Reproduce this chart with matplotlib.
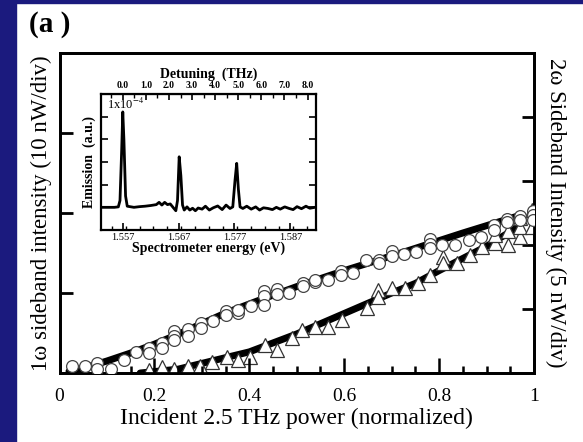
import numpy as np
import matplotlib
matplotlib.use("Agg")
import matplotlib.pyplot as plt
from matplotlib.ticker import MultipleLocator

plt.rcParams['font.family'] = ['Liberation Serif', 'DejaVu Serif']
plt.rcParams['mathtext.fontset'] = 'stix'

# 1 omega sideband (open circles, left scale, divisions)
p1 = [0.027, 0.053, 0.080, 0.080, 0.108, 0.135, 0.161, 0.188, 0.188, 0.215, 0.215,
      0.241, 0.241, 0.241, 0.270, 0.270, 0.298, 0.298, 0.323, 0.351, 0.351, 0.377,
      0.377, 0.403, 0.431, 0.431, 0.431, 0.458, 0.458, 0.484, 0.513, 0.513, 0.539,
      0.539, 0.565, 0.594, 0.594, 0.619, 0.646, 0.673, 0.673, 0.701, 0.701, 0.727,
      0.752, 0.781, 0.781, 0.781, 0.807, 0.834, 0.863, 0.889, 0.916, 0.916, 0.944,
      0.944, 0.971, 0.971, 0.998, 0.998, 0.998]
i1 = [0.083, 0.092, 0.125, 0.050, 0.054, 0.158, 0.258, 0.313, 0.250, 0.375, 0.313,
      0.529, 0.458, 0.408, 0.550, 0.458, 0.625, 0.563, 0.646, 0.771, 0.729, 0.750,
      0.790, 0.842, 1.021, 0.958, 0.854, 1.050, 0.990, 1.000, 1.125, 1.090, 1.133,
      1.167, 1.167, 1.270, 1.230, 1.250, 1.417, 1.417, 1.375, 1.520, 1.467, 1.490,
      1.510, 1.675, 1.610, 1.563, 1.604, 1.604, 1.667, 1.700, 1.846, 1.790, 1.930,
      1.883, 1.958, 1.917, 2.020, 1.970, 1.917]
fit1_p = [0.02, 0.05, 0.10, 0.15, 0.20, 0.26, 0.35, 0.43, 0.50, 0.60, 0.73, 0.85, 0.97]
fit1_i = [0.02, 0.06, 0.15, 0.25, 0.36, 0.51, 0.75, 0.93, 1.08, 1.28, 1.52, 1.75, 1.97]

# 2 omega sideband (open triangles, right scale, divisions)
p2 = [0.027, 0.188, 0.215, 0.241, 0.270, 0.270, 0.296, 0.321, 0.353, 0.376, 0.401,
      0.433, 0.458, 0.490, 0.512, 0.538, 0.566, 0.595, 0.648, 0.671, 0.671, 0.701,
      0.728, 0.755, 0.781, 0.808, 0.808, 0.838, 0.865, 0.891, 0.918, 0.918, 0.945,
      0.945, 0.971, 0.971, 0.971, 0.996, 0.996]
i2 = [0.01, 0.04, 0.09, 0.06, 0.00, 0.11, 0.11, 0.17, 0.25, 0.20, 0.25,
      0.44, 0.36, 0.55, 0.67, 0.72, 0.72, 0.83, 1.02, 1.30, 1.19, 1.33,
      1.33, 1.41, 1.53, 1.81, 1.72, 1.72, 1.84, 1.97, 2.03, 2.16, 2.00,
      2.22, 2.13, 2.28, 2.42, 2.55, 2.28]
fit2_p = [0.17, 0.25, 0.30, 0.40, 0.50, 0.60, 0.70, 0.75, 0.80, 0.90, 0.97]
fit2_i = [0.00, 0.06, 0.15, 0.33, 0.61, 0.93, 1.25, 1.40, 1.60, 1.98, 2.30]

# inset emission spectrum
e_ev = [1.5533, 1.5545, 1.5555, 1.5562, 1.5565, 1.5568, 1.5570, 1.5572, 1.5575,
        1.5578, 1.5590, 1.5600, 1.5610, 1.5620, 1.5630, 1.5635, 1.5640, 1.5645,
        1.5650, 1.5655, 1.5660, 1.5665, 1.5668, 1.5671, 1.5674, 1.5677, 1.5680,
        1.5685, 1.5690, 1.5695, 1.5700, 1.5705, 1.5712, 1.5718, 1.5725, 1.5732,
        1.5740, 1.5748, 1.5755, 1.5762, 1.5767, 1.5771, 1.5774, 1.5777, 1.5780,
        1.5785, 1.5792, 1.5800, 1.5808, 1.5815, 1.5822, 1.5830, 1.5838, 1.5845,
        1.5852, 1.5860, 1.5868, 1.5875, 1.5882, 1.5890, 1.5898, 1.5905, 1.5914]
emis = [0.00, 0.00, 0.00, 0.02, 0.30, 2.50, 4.21, 3.00, 0.50,
        0.05, 0.00, 0.03, 0.05, 0.08, 0.12, 0.22, 0.10, 0.22,
        0.12, 0.15, 0.00, -0.15, 0.30, 2.23, 1.40, 0.10, -0.12,
        0.02, -0.12, -0.04, -0.15, -0.03, -0.08, 0.05, -0.12, -0.02,
        0.06, -0.10, 0.10, -0.05, 0.02, 1.20, 1.94, 0.80, 0.02,
        -0.05, 0.05, -0.08, 0.02, -0.12, -0.02, -0.05, -0.10, 0.00,
        -0.08, 0.02, -0.05, -0.10, 0.03, -0.06, 0.05, -0.04, 0.00]
e_ticks = [1.557, 1.567, 1.577, 1.587]
thz_ticks = [0.0, 1.0, 2.0, 3.0, 4.0, 5.0, 6.0, 7.0, 8.0]
e0 = 1.557
ev_per_thz = 0.0041357

fig = plt.figure(figsize=(5.83, 4.42), dpi=100)
# slide background strips
fig.patches.append(plt.Rectangle((0, 0), 16 / 583, 1, transform=fig.transFigure,
                                 color='#1b1a7e', zorder=-10))
fig.patches.append(plt.Rectangle((0, 1 - 3 / 442), 1, 3 / 442, transform=fig.transFigure,
                                 color='#1b1a7e', zorder=-10))

ax = fig.add_axes([59.5 / 583, 69 / 442, 474.5 / 583, 320 / 442])
ax2 = ax.twinx()
ax.set_zorder(ax2.get_zorder() + 1)
ax.patch.set_visible(False)

ax.plot(fit1_p, fit1_i, '-', color='black', lw=5, solid_capstyle='round', zorder=2)
ax.plot(p1, i1, 'o', ms=8.5, mfc='white', mec='#444444', mew=0.9, zorder=3)
ax2.plot(fit2_p, fit2_i, '-', color='black', lw=5, solid_capstyle='round', zorder=2)
ax2.plot(p2, i2, '^', ms=9.5, mfc='white', mec='#333333', mew=0.9, zorder=3)

ax.set_xlim(0, 1)
ax.set_ylim(0, 4)
ax2.set_ylim(0, 5)
ax.set_xticks([0, 0.2, 0.4, 0.6, 0.8, 1])
ax.set_xticklabels(['0', '0.2', '0.4', '0.6', '0.8', '1'])
ax.xaxis.set_minor_locator(MultipleLocator(0.05))
ax.set_yticks([1, 2, 3])
ax.set_yticklabels([])
ax2.set_yticks([1, 2, 3, 4])
ax2.set_yticklabels([])
ax.tick_params(axis='x', which='major', direction='in', length=11, width=1.8,
               labelsize=14, pad=11)
ax.tick_params(axis='x', which='minor', direction='in', length=5, width=1.8)
ax.tick_params(axis='y', direction='in', length=9, width=2)
ax2.tick_params(axis='y', direction='in', length=9, width=2)
for a in (ax, ax2):
    for s in a.spines.values():
        s.set_linewidth(2)

ax.set_xlabel('Incident 2.5 THz power (normalized)', fontsize=17, labelpad=2)
ax.set_ylabel('1ω sideband intensity (10 nW/div)', fontsize=16.5, labelpad=2)
ax2.set_ylabel('2ω Sideband Intensity (5 nW/div)', fontsize=16.5, rotation=270,
               labelpad=20)
fig.text(29 / 583, 1 - 25 / 442, '(a )', fontsize=21, fontweight='bold',
         ha='left', va='center')

# inset spectrum
ins = fig.add_axes([101 / 583, 212 / 442, 215 / 583, 136 / 442])
ins.plot(e_ev, emis, '-', color='black', lw=2)
ins.set_xlim(1.5531, 1.5916)
ins.set_ylim(-1, 5)
ins.set_xticks(e_ticks)
ins.set_xticklabels(['1.557', '1.567', '1.577', '1.587'])
ins.xaxis.set_minor_locator(MultipleLocator(0.0025))
ins.set_yticks([0, 1, 2, 3, 4])
ins.set_yticklabels([])
ins.tick_params(axis='x', which='major', direction='in', length=5, width=1.2,
                labelsize=7.5, pad=2)
ins.tick_params(axis='x', which='minor', direction='in', length=3, width=1)
ins.tick_params(axis='y', direction='in', length=5, width=1.2, right=True)
for s in ins.spines.values():
    s.set_linewidth(1.6)
ins.set_xlabel('Spectrometer energy (eV)', fontsize=10, fontweight='bold', labelpad=0)
ins.set_ylabel('Emission  (a.u.)', fontsize=10, fontweight='bold', labelpad=0)
ins.text(0.03, 0.98, '1x10$^{-4}$', transform=ins.transAxes, fontsize=9,
         ha='left', va='top')

top = ins.secondary_xaxis('top', functions=(lambda e: (e - e0) / ev_per_thz,
                                            lambda t: e0 + t * ev_per_thz))
top.set_xticks(thz_ticks)
top.set_xticklabels(['%.1f' % t for t in thz_ticks], fontweight='bold')
top.xaxis.set_minor_locator(MultipleLocator(0.5))
top.tick_params(axis='x', which='major', direction='in', length=4, width=1.2,
                labelsize=7, pad=3)
top.tick_params(axis='x', which='minor', direction='in', length=3, width=1)
top.set_xlabel('Detuning  (THz)', fontsize=10, fontweight='bold', labelpad=2)

fig.savefig('out.png', dpi=100)
